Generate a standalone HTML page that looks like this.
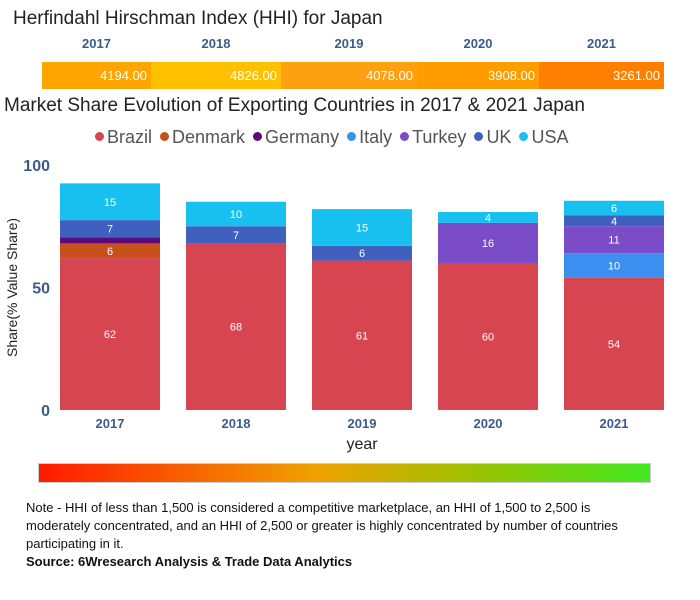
<!DOCTYPE html>
<html><head><meta charset="utf-8"><style>
body{margin:0;width:700px;height:600px;background:#fff;font-family:"Liberation Sans","DejaVu Sans",sans-serif;position:relative;overflow:hidden}
.abs{position:absolute}
</style></head><body>
<div class="abs" style="left:13px;top:8px;font-size:19px;color:#222">Herfindahl Hirschman Index (HHI) for Japan</div>
<div id="hhi"></div>
<div class="abs" style="left:4px;top:95px;font-size:19px;color:#222">Market Share Evolution of Exporting Countries in 2017 &amp; 2021 Japan</div>
<div id="legend" class="abs" style="left:95px;top:127px;font-size:18px;color:#555;display:flex;gap:8px;white-space:nowrap"></div>
<svg id="chart" class="abs" style="left:0;top:150px" width="700" height="310"></svg>
<div class="abs" style="left:38px;top:463px;width:613px;height:20px;background:linear-gradient(to right,#ff1a00,#f0a000 45%,#a0c000 70%,#40e820);border:1px solid #ccc;box-sizing:border-box"></div>
<div class="abs" style="left:26px;top:499px;width:625px;font-size:13px;line-height:18px;color:#111">Note - HHI of less than 1,500 is considered a competitive marketplace, an HHI of 1,500 to 2,500 is moderately concentrated, and an HHI of 2,500 or greater is highly concentrated by number of countries participating in it.<br><b>Source: 6Wresearch Analysis &amp; Trade Data Analytics</b></div>
<script>
const hhiYears=["2017","2018","2019","2020","2021"];
const hhiValues=[4194,4826,4078,3908,3261];
const hhiColors=["#ffa500","#ffc000","#ffa010","#ff9c00","#ff8000"];
const hhiEdges=[42,151,281,417,539,664];
const hhiEl=document.getElementById('hhi');
hhiYears.forEach((y,i)=>{
  const l=document.createElement('div');l.className='abs';
  
  
  l.style.cssText=`left:${hhiEdges[i]}px;width:${hhiEdges[i+1]-hhiEdges[i]}px;top:36px;text-align:center;font-size:13px;font-weight:bold;color:#3b5c8a`;
  l.textContent=y;hhiEl.appendChild(l);
  const c=document.createElement('div');c.className='abs';
  
  
  c.style.cssText=`left:${hhiEdges[i]}px;width:${hhiEdges[i+1]-hhiEdges[i]}px;top:62px;height:27px;background:${hhiColors[i]};color:#fff;font-size:13px;text-align:right;line-height:27px;padding-right:4px;box-sizing:border-box`;
  c.textContent=hhiValues[i].toFixed(2);hhiEl.appendChild(c);
});
const categories=["2017","2018","2019","2020","2021"];
const seriesNames=["Brazil","Denmark","Germany","Italy","Turkey","UK","USA"];
const seriesColors=["#d64550","#c8501a","#5a0a7a","#3a8ff0","#7a4cc8","#4060c0","#18c0f0"];
const brazil=[62,68,61,60,54];
const denmark=[6,0,0,0,0];
const germany=[2.5,0,0,0,0];
const italy=[0,0,0,0,10];
const turkey=[0,0,0,16.4,11];
const uk=[7,7,6,0,4.4];
const usa=[15,10,15,4.4,6];
const series=[brazil,denmark,germany,italy,turkey,uk,usa];
const yTicks=[0,50,100];
const NS='http://www.w3.org/2000/svg';
const svg=document.getElementById('chart');
const y0=260,yScale=2.45;
const y=v=>y0-v*yScale;
const x=i=>60+i*126;
const bw=100;
function mk(t,a){const e=document.createElementNS(NS,t);for(const k in a)e.setAttribute(k,a[k]);svg.appendChild(e);return e;}
yTicks.forEach(t=>{
  const e=mk('text',{x:50,y:y(t)+6,'text-anchor':'end','font-size':16,'font-weight':'bold',fill:'#3b5c8a'});
  
  
  e.textContent=t;
});
categories.forEach((c,i)=>{
  let acc=0;
  series.forEach((s,j)=>{
    const v=s[i];if(!v)return;
    const r=mk('rect',{x:x(i),y:y(acc+v),width:bw,height:v*yScale,fill:seriesColors[j]});
    
    
    if(v>=4){
      const t=mk('text',{x:x(i)+bw/2,y:y(acc+v/2)+4,'text-anchor':'middle','font-size':11,fill:'#fff'});
      
      
      t.textContent=Math.round(v);
    }
    acc+=v;
  });
  const l=mk('text',{x:x(i)+bw/2,y:y0+18,'text-anchor':'middle','font-size':13,'font-weight':'bold',fill:'#3b5c8a'});
  
  
  l.textContent=c;
});
const xt=mk('text',{x:362,y:y0+39,'text-anchor':'middle','font-size':16,fill:'#222'});


xt.textContent='year';
const yt=mk('text',{x:0,y:0,'text-anchor':'middle','font-size':14,fill:'#222',transform:`translate(17,${y(50)}) rotate(-90)`});


yt.textContent='Share(% Value Share)';
const lg=document.getElementById('legend');
seriesNames.forEach((n,j)=>{
  const s=document.createElement('span');
  
  
  s.innerHTML=`<span style="display:inline-block;width:9px;height:9px;border-radius:50%;background:${seriesColors[j]};margin-right:3px;vertical-align:2px"></span>${n}`;
  lg.appendChild(s);
});
</script>
</body></html>
